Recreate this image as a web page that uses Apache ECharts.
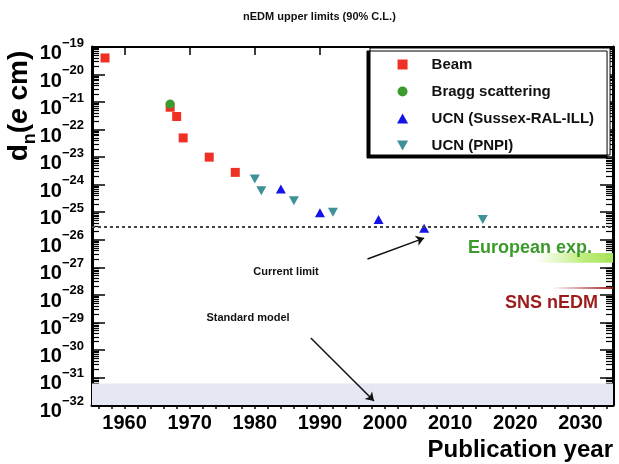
<!DOCTYPE html>
<html>
<head>
<meta charset="utf-8">
<script src="https://cdn.jsdelivr.net/npm/echarts@6/dist/echarts.min.js"></script>
<style>
  html, body { margin: 0; padding: 0; background: #fff; }
  #main { width: 619px; height: 464px; }
</style>
</head>
<body>
<div id="main"></div>
<script>
// nEDM upper limits per experiment type
var beamYears = [1957, 1967, 1968, 1969, 1973, 1977];
var beamLimits = [4e-20, 6.5e-22, 3e-22, 5e-23, 1e-23, 2.8e-24];
var braggYears = [1967];
var braggLimits = [8.5e-22];
var sussexYears = [1984, 1990, 1999, 2006];
var sussexLimits = [7e-25, 9.5e-26, 5.5e-26, 2.6e-26];
var pnpiYears = [1980, 1981, 1986, 1992, 2015];
var pnpiLimits = [1.6e-24, 6e-25, 2.6e-25, 1e-25, 5.5e-26];

// reference levels
var currentLimit = 3e-26;
var standardModel = [1e-32, 6e-32];
var europeanYears = [2023, 2035];
var europeanRange = [1.45e-27, 3.3e-27];
var snsYears = [2026, 2035];
var snsLevel = 1.8e-28;

// tick labels
var majorYears = [1960, 1970, 1980, 1990, 2000, 2010, 2020, 2030];
var decades = [-32, -31, -30, -29, -28, -27, -26, -25, -24, -23, -22, -21, -20, -19];

var minorYears = [];
for (var yr = 1956; yr <= 2034; yr += 2) minorYears.push(yr);
var majorLimits = decades.map(function(e) { return Math.pow(10, e); });
var minorLimits = [];
decades.slice(0, -1).forEach(function(e) {
    for (var k = 2; k <= 9; k++) minorLimits.push(k * Math.pow(10, e));
});

var font = "'Liberation Sans', Arial, Helvetica, sans-serif";

function pairs(xs, ys) {
    return xs.map(function(x, i) { return [x, ys[i]]; });
}

var chart = echarts.init(document.getElementById('main'));

var xBase = {
    type: 'value',
    min: 1955,
    max: 2035,
    splitLine: { show: false },
    axisLine: { onZero: false, lineStyle: { color: '#000', width: 3 } }
};
var yBase = {
    type: 'log',
    logBase: 10,
    min: 1e-32,
    max: 1e-19,
    splitLine: { show: false },
    axisLine: { onZero: false, lineStyle: { color: '#000', width: 3 } },
    axisTick: { inside: true, length: 13, customValues: majorLimits, lineStyle: { color: '#000', width: 1.5 } }
};
var yMinor = {
    type: 'log',
    logBase: 10,
    min: 1e-32,
    max: 1e-19,
    splitLine: { show: false },
    axisLine: { show: false },
    axisTick: { inside: true, length: 7, customValues: minorLimits, lineStyle: { color: '#000', width: 1.2 } },
    axisLabel: { show: false }
};

var option = {
    backgroundColor: '#fff',
    animation: false,
    textStyle: { fontFamily: font },
    title: {
        text: 'nEDM upper limits (90% C.L.)',
        left: 238,
        top: 6,
        textStyle: { fontFamily: font, fontWeight: 'bold', fontSize: 11, color: '#111' }
    },
    grid: { left: 92, right: 6, top: 47, bottom: 59, outerBoundsMode: 'none' },
    legend: {
        orient: 'vertical',
        left: 370,
        top: 48,
        itemWidth: 48,
        itemHeight: 10,
        itemGap: 12,
        padding: [9, 16, 2, 27],
        backgroundColor: '#fff',
        borderColor: '#000',
        borderWidth: 1,
        shadowColor: '#000',
        shadowBlur: 0,
        shadowOffsetX: -3,
        shadowOffsetY: 3,
        textStyle: { fontFamily: font, fontWeight: 'bold', fontSize: 15, color: '#111' },
        data: ['Beam', 'Bragg scattering', 'UCN (Sussex-RAL-ILL)', 'UCN (PNPI)']
    },
    xAxis: [
        Object.assign({}, xBase, {
            position: 'bottom',
            axisTick: { inside: true, length: 8, customValues: majorYears, lineStyle: { color: '#000', width: 1.5 } },
            axisLabel: {
                customValues: majorYears, margin: 8, color: '#000',
                fontFamily: font, fontWeight: 'bold', fontSize: 20,
                formatter: function(v) { return String(v); }
            },
            name: 'Publication year',
            nameLocation: 'end',
            nameGap: 0,
            nameTextStyle: {
                fontFamily: font, fontWeight: 'bold', fontSize: 24, color: '#000',
                align: 'right', verticalAlign: 'top', padding: [33, 0, 0, 0]
            }
        }),
        Object.assign({}, xBase, {
            position: 'top',
            axisLine: { onZero: false, lineStyle: { color: '#000', width: 2 } },
            axisTick: { inside: true, length: 8, customValues: majorYears, lineStyle: { color: '#000', width: 1.5 } },
            axisLabel: { show: false }
        }),
        Object.assign({}, xBase, {
            position: 'bottom',
            axisLine: { show: false },
            axisTick: { inside: true, length: 4, customValues: minorYears, lineStyle: { color: '#000', width: 1.5 } },
            axisLabel: { show: false }
        }),
        Object.assign({}, xBase, {
            position: 'top',
            axisLine: { show: false },
            axisTick: { inside: true, length: 4, customValues: minorYears, lineStyle: { color: '#000', width: 1.5 } },
            axisLabel: { show: false }
        })
    ],
    yAxis: [
        Object.assign({}, yBase, {
            position: 'left',
            axisLabel: {
                customValues: majorLimits,
                margin: 8,
                color: '#000',
                padding: [6, 0, 0, 0],
                formatter: function(v) {
                    var e = Math.round(Math.log(v) / Math.LN10);
                    return '{b|10}{s|\u2212' + (-e) + '}';
                },
                rich: {
                    b: { fontFamily: font, fontWeight: 'bold', fontSize: 20, lineHeight: 27, verticalAlign: 'bottom', color: '#000' },
                    s: { fontFamily: font, fontWeight: 'bold', fontSize: 13, lineHeight: 12, verticalAlign: 'top', color: '#000' }
                }
            }
        }),
        Object.assign({}, yBase, {
            position: 'right',
            axisLabel: { show: false }
        }),
        Object.assign({}, yMinor, { position: 'left' }),
        Object.assign({}, yMinor, { position: 'right' })
    ],
    series: [
        {
            name: 'Beam', type: 'scatter', symbol: 'path://M0,0L10,0L10,10L0,10Z', symbolSize: 9,
            itemStyle: { color: '#ee3124', opacity: 1 }, data: pairs(beamYears, beamLimits), z: 3
        },
        {
            name: 'Bragg scattering', type: 'scatter', symbol: 'circle', symbolSize: 9,
            itemStyle: { color: '#3a9b2f', opacity: 1 }, data: pairs(braggYears, braggLimits), z: 4
        },
        {
            name: 'UCN (Sussex-RAL-ILL)', type: 'scatter', symbol: 'path://M5,0L10,9L0,9Z', symbolSize: [10, 9],
            itemStyle: { color: '#1414e6', opacity: 1 }, data: pairs(sussexYears, sussexLimits), z: 4
        },
        {
            name: 'UCN (PNPI)', type: 'scatter', symbol: 'path://M0,0L10,0L5,9Z', symbolSize: [10, 9],
            itemStyle: { color: '#3f9199', opacity: 1 }, data: pairs(pnpiYears, pnpiLimits), z: 4
        },
        {
            name: 'refs', type: 'scatter', data: [], silent: true, z: 2,
            markArea: {
                silent: true,
                label: { show: false },
                data: [
                    [
                        { xAxis: 1955, yAxis: standardModel[0], itemStyle: { color: '#e5e8f3' } },
                        { xAxis: 2035, yAxis: standardModel[1] }
                    ],
                    [
                        {
                            xAxis: europeanYears[0], yAxis: europeanRange[0],
                            itemStyle: {
                                color: {
                                    type: 'linear', x: 0, y: 0, x2: 1, y2: 0,
                                    colorStops: [
                                        { offset: 0, color: 'rgba(190,236,110,0)' },
                                        { offset: 0.6, color: 'rgba(175,232,95,0.8)' },
                                        { offset: 1, color: '#a8e35a' }
                                    ]
                                }
                            }
                        },
                        { xAxis: europeanYears[1], yAxis: europeanRange[1] }
                    ]
                ]
            },
            markLine: {
                silent: true,
                label: { show: false },
                symbol: 'none',
                data: [
                    [
                        {
                            coord: [1955, currentLimit],
                            lineStyle: { color: '#444', width: 2, type: [3, 3] }
                        },
                        { coord: [2035, currentLimit] }
                    ],
                    [
                        {
                            coord: [snsYears[0], snsLevel],
                            lineStyle: {
                                width: 2, type: 'solid',
                                color: {
                                    type: 'linear', x: 0, y: 0, x2: 1, y2: 0,
                                    colorStops: [
                                        { offset: 0, color: 'rgba(160,30,30,0)' },
                                        { offset: 1, color: '#9c1b1b' }
                                    ]
                                }
                            }
                        },
                        { coord: [snsYears[1], snsLevel] }
                    ],
                    [
                        {
                            coord: [1997.3, 2e-27], symbol: 'none',
                            lineStyle: { color: '#111', width: 1.5, type: 'solid' }
                        },
                        { coord: [2006, 1.15e-26], symbol: 'arrow', symbolSize: 8 }
                    ],
                    [
                        {
                            coord: [1988.6, 2.7e-30], symbol: 'none',
                            lineStyle: { color: '#111', width: 1.5, type: 'solid' }
                        },
                        { coord: [1998.3, 1.4e-32], symbol: 'arrow', symbolSize: 8 }
                    ]
                ]
            }
        }
    ],
    graphic: [
        {
            type: 'text', x: 22, y: 106, rotation: Math.PI / 2, z: 10,
            style: {
                text: '{m|d}{n|n}{m|(}{i|e}{m| cm)}',
                align: 'center', verticalAlign: 'middle',
                rich: {
                    m: { fontFamily: font, fontWeight: 'bold', fontSize: 28, lineHeight: 34, verticalAlign: 'top', fill: '#000' },
                    i: { fontFamily: font, fontWeight: 'bold', fontStyle: 'italic', fontSize: 28, lineHeight: 34, verticalAlign: 'top', fill: '#000' },
                    n: { fontFamily: font, fontWeight: 'bold', fontSize: 18, lineHeight: 34, verticalAlign: 'bottom', fill: '#000' }
                }
            }
        },
        {
            type: 'text', x: 286, y: 272, z: 10,
            style: { text: 'Current limit', font: 'bold 11px ' + font, fill: '#111', align: 'center', verticalAlign: 'middle' }
        },
        {
            type: 'text', x: 248, y: 318, z: 10,
            style: { text: 'Standard model', font: 'bold 11px ' + font, fill: '#111', align: 'center', verticalAlign: 'middle' }
        },
        {
            type: 'text', x: 468, y: 248, z: 10,
            style: { text: 'European exp.', font: 'bold 18px ' + font, fill: '#3c9a2a', align: 'left', verticalAlign: 'middle' }
        },
        {
            type: 'text', x: 505, y: 303, z: 10,
            style: { text: 'SNS nEDM', font: 'bold 18px ' + font, fill: '#9c1b1b', align: 'left', verticalAlign: 'middle' }
        }
    ]
};

chart.setOption(option);
</script>
</body>
</html>
